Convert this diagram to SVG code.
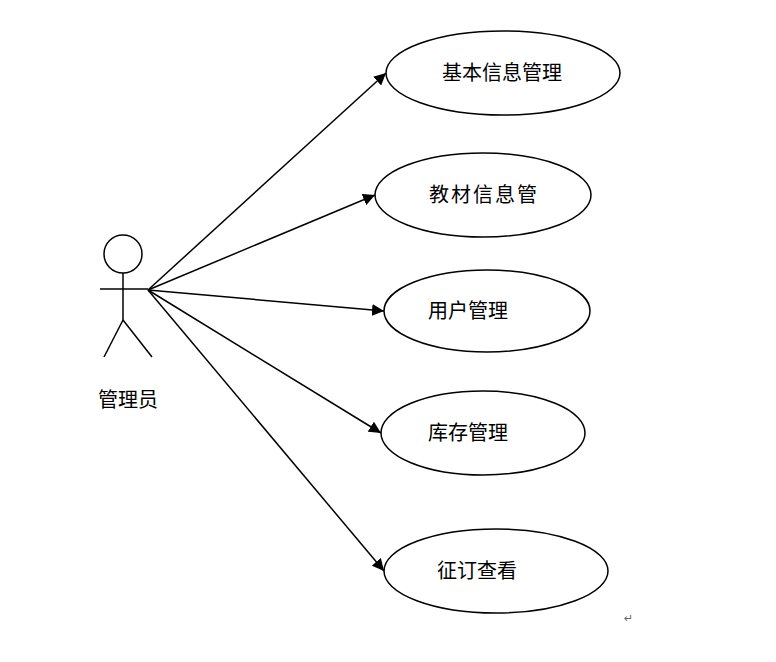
<svg xmlns="http://www.w3.org/2000/svg" width="776" height="662" viewBox="0 0 776 662">
<style>
.u{fill:#fff;stroke:#000;stroke-width:1.5}
.t{font-family:"Noto Sans CJK SC",sans-serif;font-size:20px;fill:#000}
.c{stroke:#000;stroke-width:1.5;fill:none;marker-end:url(#a)}
</style>
<defs><marker id="a" viewBox="0 0 10 10" refX="10" refY="5" markerWidth="12" markerHeight="12" markerUnits="userSpaceOnUse" orient="auto"><path d="M0,0L10,5L0,10z" fill="#000"/></marker></defs>
<rect width="776" height="662" fill="#fff"/>
<g id="actor" fill="none" stroke="#000" stroke-width="1.5">
<circle cx="123" cy="254" r="19"/>
<line x1="123" y1="273" x2="123" y2="320"/>
<line x1="100" y1="289" x2="148" y2="289"/>
<line x1="123" y1="320" x2="104" y2="357"/>
<line x1="123" y1="320" x2="152" y2="357"/>
<text x="128" y="407" text-anchor="middle" class="t" stroke="none">管理员</text>
</g>
<g id="uc1"><ellipse class="u" cx="503" cy="73" rx="117" ry="42"/><text class="t" x="502" y="80" text-anchor="middle">基本信息管理</text></g>
<g id="uc2"><ellipse class="u" cx="483" cy="195" rx="108" ry="42"/><text class="t" x="484" y="202" text-anchor="middle" letter-spacing="2">教材信息管</text></g>
<g id="uc3"><ellipse class="u" cx="487" cy="311" rx="103" ry="41"/><text class="t" x="468" y="318" text-anchor="middle">用户管理</text></g>
<g id="uc4"><ellipse class="u" cx="483" cy="433" rx="102" ry="42"/><text class="t" x="468" y="440" text-anchor="middle">库存管理</text></g>
<g id="uc5"><ellipse class="u" cx="496" cy="571" rx="112" ry="42"/><text class="t" x="477" y="578" text-anchor="middle">征订查看</text></g>
<g id="connectors">
<line class="c" x1="148" y1="290" x2="386" y2="73"/>
<line class="c" x1="148" y1="290" x2="375" y2="195"/>
<line class="c" x1="148" y1="290" x2="384" y2="311"/>
<line class="c" x1="148" y1="290" x2="381" y2="433"/>
<line class="c" x1="148" y1="290" x2="384" y2="571"/>
</g>
<text x="624" y="622" font-family="DejaVu Sans,sans-serif" font-size="11" fill="#666">↵</text>
</svg>
